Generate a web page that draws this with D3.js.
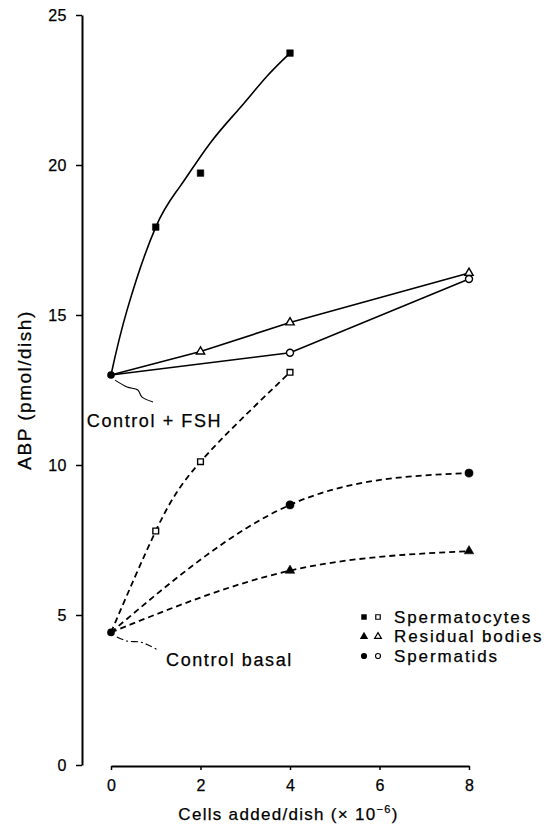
<!DOCTYPE html>
<html>
<head>
<meta charset="utf-8">
<script src="https://cdn.jsdelivr.net/npm/d3@7"></script>
<style>
  html, body { margin: 0; padding: 0; background: #fff; }
  svg { display: block; }
  text { font-family: "Liberation Sans", Arial, Helvetica, sans-serif; fill: #000; stroke: #000; stroke-width: 0.25px; }
</style>
</head>
<body>
<svg id="chart" width="548" height="824"></svg>
<script>
// ---------------- data ----------------
const xTicks = [0, 2, 4, 6, 8];
const yTicks = [0, 5, 10, 15, 20, 25];
const yTickLabels = ["0", "5", "10", "15", "20", "25"];

const controlFsh = 13.0;    // Control + FSH at 0 cells
const controlBasal = 4.42;  // Control basal at 0 cells

// + FSH (solid lines)
const cocyteFshX = [0, 1, 2, 4];
const cocyteFshY = [13.0, 17.93, 19.73, 23.73];
// fitted curve (passes slightly above the point at 2)
const cocyteFshCurveX = [0, 0.36, 1, 1.54, 2.21, 2.88, 3.48, 4];
const cocyteFshCurveY = [13.0, 15.17, 17.93, 19.28, 20.72, 21.9, 22.95, 23.73];
const residFshX = [0, 2, 4, 8];
const residFshY = [13.0, 13.78, 14.75, 16.4];
const tidFshX = [0, 4, 8];
const tidFshY = [13.0, 13.74, 16.2];

// basal (dashed lines)
const cocyteBasX = [0, 1, 2, 4];
const cocyteBasY = [4.42, 7.8, 10.11, 13.09];
const residBasX = [0, 4, 8];
const residBasY = [4.42, 6.48, 7.13];
const tidBasX = [0, 4, 8];
const tidBasY = [4.42, 8.67, 9.73];

const legendLabels = ["Spermatocytes", "Residual bodies", "Spermatids"];
const legendShapes = ["square", "triangle", "circle"];

// annotation leaders (data units)
const fshLeaderX = [0.09, 0.36, 0.6, 0.69, 0.94];
const fshLeaderY = [12.83, 12.6, 12.5, 12.27, 12.1];
const basLeaderX = [0.13, 0.36, 0.65, 0.83, 1.05];
const basLeaderY = [4.27, 4.13, 4.1, 4.0, 3.83];

// ---------------- layout ----------------
const svg = d3.select("#chart");
const x = d3.scaleLinear().domain([0, 8]).range([111, 469]);
const y = d3.scaleLinear().domain([0, 25]).range([765, 15]);

const zip = (xs, ys) => xs.map((v, i) => [v, ys[i]]);

// axes
const yAxis = d3.axisLeft(y).tickValues(yTicks)
  .tickFormat((d, i) => yTickLabels[i]).tickSize(6).tickSizeOuter(0).tickPadding(9);
const gy = svg.append("g").attr("transform", "translate(82,0)").call(yAxis);
gy.select(".domain").attr("stroke", "#000").attr("stroke-width", 2);
gy.selectAll(".tick line").attr("stroke", "#000").attr("stroke-width", 1.5);
gy.selectAll(".tick text").attr("font-size", 16).attr("font-family", "Liberation Sans, Arial, sans-serif").attr("letter-spacing", 0.5);

const xAxis = d3.axisBottom(x).tickValues(xTicks).tickFormat(d3.format("d"))
  .tickSize(4).tickSizeOuter(0).tickPadding(10);
const gx = svg.append("g").attr("transform", "translate(0,766)").call(xAxis);
gx.select(".domain").attr("stroke", "#000").attr("stroke-width", 2);
gx.selectAll(".tick line").attr("stroke", "#000").attr("stroke-width", 1.5);
gx.selectAll(".tick text").attr("font-size", 16).attr("font-family", "Liberation Sans, Arial, sans-serif");

// axis titles
const xt = svg.append("text")
  .attr("x", (169 + 408) / 2).attr("y", 820)
  .attr("text-anchor", "middle").attr("font-size", 17).attr("letter-spacing", 1.3);
xt.append("tspan").text("Cells added/dish (\u00d7 10");
xt.append("tspan").attr("font-size", 11).attr("dy", -7).text("\u22126");
xt.append("tspan").attr("dy", 7).text(")");

svg.append("text")
  .attr("transform", "translate(31,390) rotate(-90)")
  .attr("text-anchor", "middle").attr("font-size", 19).attr("letter-spacing", 1.5)
  .text("ABP (pmol/dish)");

// lines
const natural = d3.line().x(d => x(d[0])).y(d => y(d[1])).curve(d3.curveNatural);
const straight = d3.line().x(d => x(d[0])).y(d => y(d[1])).curve(d3.curveLinear);
const series = [
  { pts: zip(cocyteFshCurveX, cocyteFshCurveY), dashed: false, gen: natural },
  { pts: zip(residFshX, residFshY), dashed: false, gen: straight },
  { pts: zip(tidFshX, tidFshY), dashed: false, gen: straight },
  { pts: zip(cocyteBasX, cocyteBasY), dashed: true, gen: natural },
  { pts: zip(residBasX, residBasY), dashed: true, gen: natural },
  { pts: zip(tidBasX, tidBasY), dashed: true, gen: natural }
];
svg.append("g").selectAll("path").data(series).join("path")
  .attr("d", d => d.gen(d.pts))
  .attr("fill", "none").attr("stroke", "#000")
  .attr("stroke-width", d => d.dashed ? 1.8 : 1.6)
  .attr("stroke-dasharray", d => d.dashed ? "6 4" : null);

// markers
const symType = { square: d3.symbolSquare, triangle: d3.symbolTriangle, circle: d3.symbolCircle };
const symSize = { square: 44, triangle: 40, circle: 52 };
const markerSets = [
  { xs: cocyteFshX.slice(1), ys: cocyteFshY.slice(1), shape: "square", filled: true },
  { xs: residFshX.slice(1), ys: residFshY.slice(1), shape: "triangle", filled: false },
  { xs: tidFshX.slice(1), ys: tidFshY.slice(1), shape: "circle", filled: false },
  { xs: cocyteBasX.slice(1), ys: cocyteBasY.slice(1), shape: "square", filled: false },
  { xs: residBasX.slice(1), ys: residBasY.slice(1), shape: "triangle", filled: true },
  { xs: tidBasX.slice(1), ys: tidBasY.slice(1), shape: "circle", filled: true }
];
const mg = svg.append("g");
markerSets.forEach(ms => {
  const sz = ms.filled ? symSize[ms.shape] : symSize[ms.shape] * 0.75;
  mg.selectAll(null).data(zip(ms.xs, ms.ys)).join("path")
    .attr("transform", d => `translate(${x(d[0])},${y(d[1])})`)
    .attr("d", d3.symbol().type(symType[ms.shape]).size(sz))
    .attr("fill", ms.filled ? "#000" : "#fff")
    .attr("stroke", "#000").attr("stroke-width", ms.filled ? 0.5 : 1.4);
});

// control points
svg.append("g").selectAll("circle").data([controlFsh, controlBasal]).join("circle")
  .attr("cx", x(0)).attr("cy", d => y(d)).attr("r", 3.8).attr("fill", "#000");

// annotations
const leader = d3.line().x(d => x(d[0])).y(d => y(d[1])).curve(d3.curveCatmullRom);
svg.append("path").attr("d", leader(zip(fshLeaderX, fshLeaderY)))
  .attr("fill", "none").attr("stroke", "#000").attr("stroke-width", 1.1);
svg.append("path").attr("d", leader(zip(basLeaderX, basLeaderY)))
  .attr("fill", "none").attr("stroke", "#000").attr("stroke-width", 1.1)
  .attr("stroke-dasharray", "7 3 2 3");

svg.append("text").attr("x", x(-0.54)).attr("y", y(controlFsh) + 52)
  .attr("font-size", 18).attr("letter-spacing", 1.6).text("Control + FSH");
svg.append("text").attr("x", x(1.23)).attr("y", y(controlBasal) + 34)
  .attr("font-size", 18).attr("letter-spacing", 1.6).text("Control basal");

// legend
const lg = svg.append("g");
legendLabels.forEach((lab, i) => {
  const cy = 617 + i * 19.5;
  const sh = legendShapes[i];
  lg.append("path").attr("transform", `translate(364,${cy})`)
    .attr("d", d3.symbol().type(symType[sh]).size(30)).attr("fill", "#000");
  lg.append("path").attr("transform", `translate(378,${cy})`)
    .attr("d", d3.symbol().type(symType[sh]).size(20))
    .attr("fill", "#fff").attr("stroke", "#000").attr("stroke-width", 1.2);
  lg.append("text").attr("x", 394).attr("y", cy).attr("dy", "0.35em")
    .attr("font-size", 17).attr("letter-spacing", 1.9).text(lab);
});
</script>
</body>
</html>
